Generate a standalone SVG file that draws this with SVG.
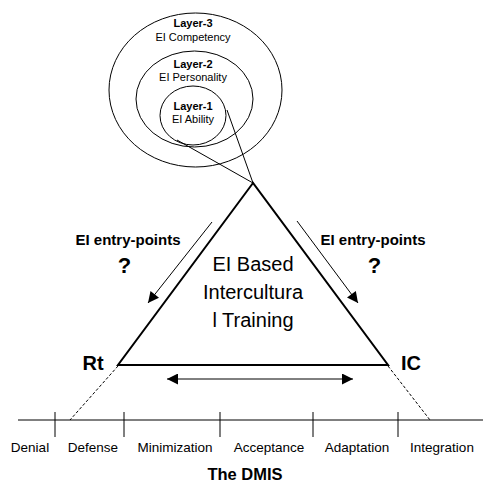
<svg xmlns="http://www.w3.org/2000/svg" width="483" height="485" viewBox="0 0 483 485">
<style>
text{font-family:"Liberation Sans",Arial,sans-serif;fill:#000;text-anchor:middle}
.b{font-weight:bold}
.ln{stroke:#000;fill:none;stroke-width:1}
</style>
<defs>
<marker id="ah" viewBox="0 0 10 10" refX="10" refY="5" markerWidth="13" markerHeight="11" markerUnits="userSpaceOnUse" orient="auto-start-reverse"><path d="M0,0 L10,5 L0,10 z" fill="#000"/></marker>
</defs>
<rect width="483" height="485" fill="#fff"/>
<g id="layers">
<ellipse class="ln" cx="195.5" cy="90" rx="86.5" ry="77"/>
<ellipse class="ln" cx="194.5" cy="99" rx="58.5" ry="48"/>
<ellipse class="ln" cx="193" cy="115.5" rx="33" ry="29.5"/>
<text x="193" y="27" class="b" font-size="11">Layer-3</text>
<text x="193" y="41" font-size="11">EI Competency</text>
<text x="193" y="68" class="b" font-size="11">Layer-2</text>
<text x="193" y="81" font-size="11">EI Personality</text>
<text x="193" y="110" class="b" font-size="11">Layer-1</text>
<text x="193" y="123" font-size="11">EI Ability</text>
</g>
<g id="triangle">
<polygon points="253,183 118,365 388,365" fill="none" stroke="#000" stroke-width="2"/>
<text x="253" y="271" font-size="20">EI Based</text>
<text x="253" y="299" font-size="20">Intercultura</text>
<text x="253" y="327" font-size="20">l Training</text>
</g>
<g id="rt"><text x="93" y="370" class="b" font-size="20">Rt</text></g>
<g id="ic"><text x="411" y="370" class="b" font-size="20">IC</text></g>
<g id="entry-left">
<text x="128" y="245" class="b" font-size="15">EI entry-points</text>
<text x="124.5" y="273" class="b" font-size="22">?</text>
</g>
<g id="entry-right">
<text x="373" y="245" class="b" font-size="15">EI entry-points</text>
<text x="374.5" y="273" class="b" font-size="22">?</text>
</g>
<g id="dmis">
<line class="ln" x1="18" y1="420" x2="483" y2="420"/>
<line class="ln" x1="55" y1="412" x2="55" y2="437"/>
<line class="ln" x1="124" y1="412" x2="124" y2="437"/>
<line class="ln" x1="220" y1="412" x2="220" y2="437"/>
<line class="ln" x1="313" y1="412" x2="313" y2="437"/>
<line class="ln" x1="398" y1="412" x2="398" y2="437"/>
<text x="30" y="452" font-size="13.5">Denial</text>
<text x="93" y="452" font-size="13.5">Defense</text>
<text x="175" y="452" font-size="13.5">Minimization</text>
<text x="269" y="452" font-size="13.5">Acceptance</text>
<text x="357" y="452" font-size="13.5">Adaptation</text>
<text x="442" y="452" font-size="13.5">Integration</text>
<text x="245" y="480" class="b" font-size="16.5">The DMIS</text>
</g>
<g id="connectors">
<line class="ln" x1="227" y1="110" x2="253" y2="183"/>
<line class="ln" x1="177" y1="140" x2="253" y2="183"/>
<line class="ln" x1="212" y1="222" x2="148" y2="303" marker-end="url(#ah)"/>
<line class="ln" x1="297" y1="221" x2="358" y2="303" marker-end="url(#ah)"/>
<line class="ln" x1="167" y1="379" x2="353" y2="379" marker-start="url(#ah)" marker-end="url(#ah)"/>
<line class="ln" x1="118" y1="366" x2="70" y2="420" stroke-dasharray="3,2"/>
<line class="ln" x1="388" y1="366" x2="430" y2="420" stroke-dasharray="3,2"/>
</g>
</svg>
